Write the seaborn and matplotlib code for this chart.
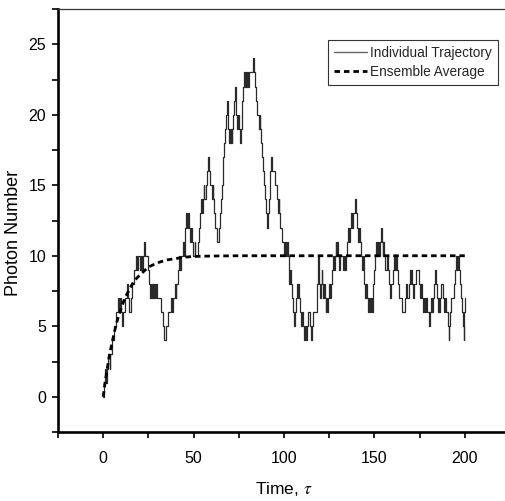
import matplotlib
matplotlib.use("Agg")
import matplotlib.pyplot as plt
from matplotlib.ticker import MultipleLocator
import seaborn as sns

# Single-trajectory photon count (jump times and the count reached at each jump)
traj_time = [
    0, 0.5, 1.0, 1.5, 2.0, 2.5, 3.5, 4.0, 5.0, 6.0, 7.0, 8.0, 9.0, 9.5, 10.0, 10.5, 11.0, 12.0, 13.0, 13.5,
    14.0, 15.5, 16.0, 17.0, 18.0, 18.5, 19.0, 20.5, 21.0, 21.5, 22.0, 22.6, 23.2, 25.0, 25.3, 25.8, 26.2, 26.6,
    27.0, 27.5, 28.0, 28.5, 29.0, 30.0, 32.0, 33.0, 33.5, 35.0, 36.0, 37.5, 38.0, 38.5, 39.5, 40.0, 40.5, 41.5,
    42.0, 42.5, 43.0, 44.0, 44.5, 45.0, 45.5, 46.0, 46.5, 47.0, 47.5, 48.0, 48.5, 49.0, 49.5, 50.5, 51.0, 52.5,
    53.0, 53.5, 54.0, 54.5, 55.0, 55.5, 56.0, 57.0, 57.5, 58.0, 58.5, 59.0, 60.0, 60.5, 61.0, 61.5, 62.0, 63.0,
    64.0, 64.5, 65.0, 65.5, 66.0, 66.5, 67.0, 67.5, 68.0, 68.5, 69.0, 69.3, 69.6, 70.0, 70.3, 70.6, 71.0, 71.5,
    72.0, 72.4, 72.8, 73.2, 73.6, 74.0, 74.5, 75.0, 75.5, 76.0, 76.5, 77.0, 77.5, 78.0, 78.4, 78.8, 79.2, 79.6,
    80.0, 80.5, 82.8, 83.3, 84.0, 84.5, 85.0, 86.0, 86.5, 87.0, 87.5, 88.0, 88.5, 89.0, 89.5, 90.0, 90.5, 91.0,
    91.5, 92.0, 92.5, 93.0, 93.5, 95.0, 96.0, 96.5, 97.0, 97.5, 98.0, 99.0, 100.0, 100.5, 101.0, 101.5, 102.0,
    102.5, 103.0, 103.5, 104.0, 104.5, 105.0, 105.5, 106.0, 106.5, 107.0, 107.5, 108.0, 108.5, 109.0, 109.5,
    110.0, 110.5, 111.0, 111.5, 112.0, 112.5, 113.0, 114.5, 115.0, 115.5, 116.0, 118.0, 118.3, 118.6, 119.0,
    119.3, 119.6, 120.0, 120.4, 120.8, 121.2, 121.6, 122.0, 122.5, 123.0, 123.5, 124.0, 124.5, 125.0, 125.5,
    126.0, 126.5, 127.0, 127.5, 128.0, 128.5, 129.0, 129.5, 130.0, 130.5, 131.0, 132.5, 133.0, 134.0, 134.5,
    135.0, 135.5, 136.0, 136.5, 137.0, 137.5, 138.0, 139.5, 140.0, 140.5, 141.0, 141.5, 142.0, 142.5, 143.0,
    143.5, 144.0, 144.5, 145.0, 145.5, 146.0, 146.5, 147.0, 147.5, 148.0, 148.5, 149.0, 149.5, 150.0, 150.5,
    151.0, 151.5, 152.0, 152.5, 153.0, 153.5, 154.0, 154.5, 155.0, 155.5, 156.0, 157.0, 157.5, 158.0, 158.5,
    159.0, 160.5, 161.0, 161.5, 162.0, 162.5, 163.0, 163.5, 165.5, 167.0, 167.5, 168.0, 169.0, 169.5, 170.0,
    170.5, 171.0, 171.5, 172.0, 173.0, 174.5, 175.0, 176.0, 176.5, 177.0, 177.5, 178.0, 178.5, 179.0, 180.0,
    181.0, 181.5, 182.0, 182.5, 183.0, 183.5, 184.0, 184.5, 185.0, 185.5, 186.0, 186.5, 187.0, 188.0, 188.5,
    189.0, 189.5, 190.5, 191.0, 191.5, 192.0, 192.5, 194.0, 194.5, 195.0, 195.5, 196.0, 197.0, 197.5, 198.0,
    198.5, 199.0, 199.3, 199.6, 199.8, 200.0,
]
traj_count = [
    0, 1, 2, 1, 2, 3, 2, 3, 4, 5, 6, 7, 6, 7, 6, 5, 6, 7, 8, 7,
    6, 7, 8, 9, 10, 9, 10, 9, 10, 9, 10, 11, 10, 9, 8, 7, 8, 7,
    8, 7, 8, 7, 8, 7, 6, 5, 4, 5, 6, 7, 6, 7, 8, 7, 8, 9,
    10, 9, 10, 11, 10, 11, 12, 13, 12, 13, 12, 11, 12, 11, 10, 11, 10, 11,
    12, 13, 14, 13, 14, 15, 14, 15, 16, 17, 16, 15, 14, 15, 14, 13, 12, 11,
    12, 13, 14, 15, 16, 17, 18, 19, 20, 21, 20, 19, 18, 19, 18, 19, 18, 19,
    20, 21, 22, 21, 20, 19, 20, 19, 18, 19, 20, 21, 22, 23, 22, 23, 22, 23,
    22, 23, 24, 23, 22, 21, 20, 19, 20, 19, 18, 17, 16, 15, 14, 13, 12, 13,
    14, 15, 16, 17, 16, 15, 14, 13, 14, 13, 12, 11, 10, 11, 10, 11, 10,
    9, 8, 9, 8, 7, 6, 5, 6, 7, 8, 7, 8, 7, 6, 5,
    6, 5, 4, 5, 4, 5, 6, 5, 4, 5, 6, 7, 8, 9, 10,
    9, 8, 7, 8, 9, 8, 7, 8, 7, 6, 7, 6, 7, 8, 7,
    8, 9, 10, 9, 10, 11, 10, 11, 10, 9, 10, 9, 10, 9, 10,
    11, 12, 11, 12, 13, 12, 13, 14, 13, 12, 11, 12, 11, 10, 9,
    10, 9, 8, 7, 8, 7, 6, 7, 6, 7, 6, 7, 8, 9, 10,
    11, 10, 11, 10, 11, 12, 11, 10, 11, 10, 9, 10, 9, 8, 7,
    8, 9, 10, 9, 10, 9, 8, 7, 6, 7, 8, 7, 8, 9, 8,
    9, 8, 7, 8, 9, 8, 7, 8, 7, 6, 7, 6, 7, 6, 5,
    6, 7, 6, 7, 8, 9, 8, 7, 6, 7, 6, 7, 8, 7, 6,
    7, 6, 5, 4, 5, 6, 7, 8, 9, 10, 9, 10, 9, 8, 7,
    6, 5, 4, 5, 6, 7,
]

# Ensemble-averaged photon number
avg_time = [0, 1, 2, 3, 4, 5, 6, 8, 10, 12, 14, 17, 20, 25, 30, 35, 40, 45, 50, 60, 75, 100, 125, 150, 175, 200]
avg_count = [0, 1.0, 1.8, 2.6, 3.3, 3.9, 4.5, 5.5, 6.3, 7.0, 7.5, 8.2, 8.6, 9.2, 9.5, 9.7, 9.8, 9.9, 9.95, 9.98,
             10.0, 10.0, 10.0, 10.0, 10.0, 10.0]

x_ticks = [0, 50, 100, 150, 200]
y_ticks = [0, 5, 10, 15, 20, 25]

sns.set_theme(style="ticks")
plt.rcParams["font.family"] = ["Liberation Sans", "DejaVu Sans"]
plt.rcParams["mathtext.fontset"] = "stix"

fig = plt.figure(figsize=(5.05, 5.01), dpi=100)
W, H = 505, 501
ax = fig.add_axes([58 / W, (H - 432) / H, (510 - 58) / W, (432 - 9) / H])

sns.lineplot(x=traj_time, y=traj_count, ax=ax, drawstyle="steps-post", estimator=None, sort=False,
             color="#2a2a2a", linewidth=0.9, label="Individual Trajectory")
sns.lineplot(x=avg_time, y=avg_count, ax=ax, estimator=None, sort=False,
             color="black", linewidth=2.0, linestyle=(0, (2.0, 1.4)), label="Ensemble Average")

ax.set_xlim(-25, 225)
ax.set_ylim(-2.5, 27.5)
ax.set_xticks(x_ticks)
ax.set_yticks(y_ticks)
ax.xaxis.set_minor_locator(MultipleLocator(25))
ax.yaxis.set_minor_locator(MultipleLocator(2.5))
ax.tick_params(axis="both", which="both", direction="out", length=4.5, width=1.2, color="black",
               labelsize=11.5, labelcolor="black")
ax.tick_params(axis="x", which="both", pad=9)
ax.tick_params(axis="y", which="both", pad=4)

for side in ("left", "bottom"):
    ax.spines[side].set_linewidth(1.9)
    ax.spines[side].set_color("black")
ax.spines["top"].set_visible(True)
ax.spines["top"].set_linewidth(0.9)
ax.spines["top"].set_color("#333333")
ax.spines["right"].set_visible(False)

ax.set_xlabel(r"Time, $\tau$", fontsize=12.5, color="black", labelpad=10)
ax.set_ylabel("Photon Number", fontsize=13, color="black")
ax.yaxis.set_label_coords(-36 / 452, (432 - 233) / 423)

leg = ax.legend(loc="upper left", bbox_to_anchor=((328 - 58) / 452, (432 - 40) / 423),
                borderaxespad=0, frameon=True, fancybox=False, fontsize=9.8,
                handlelength=2.4, handletextpad=0.25, labelspacing=0.35, borderpad=0.45)
leg.get_frame().set_edgecolor("black")
leg.get_frame().set_linewidth(0.8)
leg.get_lines()[0].set_color("#666666")
leg.get_lines()[0].set_linewidth(1.0)

fig.savefig("out.png", dpi=100)
